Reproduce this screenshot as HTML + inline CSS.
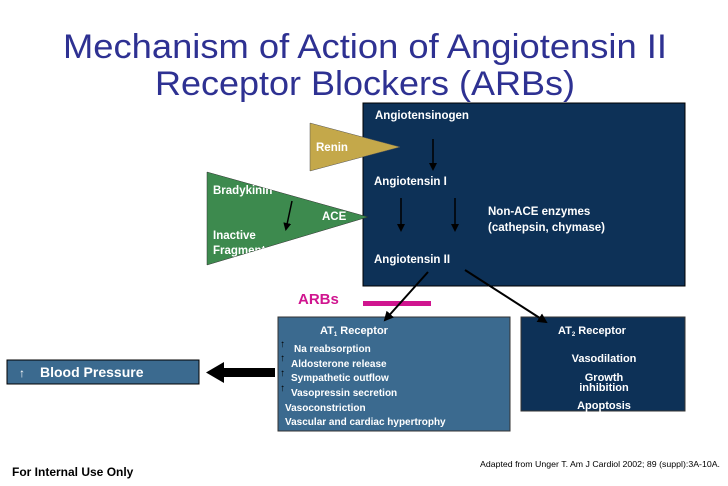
<!DOCTYPE html>
<html><head><style>body{margin:0;background:#fff}svg{display:block}</style></head><body>
<svg width="728" height="486" viewBox="0 0 728 486" xmlns="http://www.w3.org/2000/svg" font-family="Liberation Sans, sans-serif">
<defs>
<marker id="ah" markerWidth="8" markerHeight="8" refX="6" refY="4" orient="auto" markerUnits="userSpaceOnUse"><path d="M0,0 L8,4 L0,8 z" fill="#000"/></marker>
<marker id="ah2" markerWidth="10" markerHeight="10" refX="8" refY="5" orient="auto" markerUnits="userSpaceOnUse"><path d="M0,0 L10,5 L0,10 z" fill="#000"/></marker>
<clipPath id="gc"><polygon points="207,172 207,265 368,217"/></clipPath>
</defs>
<text x="365" y="58" text-anchor="middle" font-size="34" fill="#2e3192" textLength="604" lengthAdjust="spacingAndGlyphs">Mechanism of Action of Angiotensin II</text>
<text x="365" y="95" text-anchor="middle" font-size="34" fill="#2e3192" textLength="420" lengthAdjust="spacingAndGlyphs">Receptor Blockers (ARBs)</text>
<rect x="363" y="103" width="322" height="183" fill="#0d3157" stroke="#000" stroke-width="1"/>
<polygon points="310,123 310,171 400,147" fill="#c4a84a" stroke="#555" stroke-width="0.5"/>
<polygon points="207,172 207,265 368,217" fill="#3d8a4e" stroke="#333" stroke-width="0.5"/>
<g font-weight="bold" font-size="11.5" fill="#fff">
<text x="375" y="119">Angiotensinogen</text>
<text x="316" y="151">Renin</text>
<text x="374" y="185">Angiotensin I</text>
<text x="322" y="220">ACE</text>
<text x="488" y="215">Non-ACE enzymes</text>
<text x="488" y="231">(cathepsin, chymase)</text>
<text x="374" y="263">Angiotensin II</text>
<g clip-path="url(#gc)"><text x="213" y="194">Bradykinin</text><text x="213" y="239">Inactive</text><text x="213" y="254">Fragments</text></g>
</g>
<g stroke="#000" stroke-width="1.5" marker-end="url(#ah)">
<line x1="433" y1="139" x2="433" y2="169"/>
<line x1="401" y1="198" x2="401" y2="230"/>
<line x1="455" y1="198" x2="455" y2="230"/>
<line x1="292" y1="201" x2="286" y2="229"/>
</g>
<text x="298" y="304" font-weight="bold" font-size="15" fill="#d0158f">ARBs</text>
<rect x="363" y="301" width="68" height="5" fill="#d0158f"/>
<rect x="278" y="317" width="232" height="114" fill="#3b6a8f" stroke="#333" stroke-width="1"/>
<rect x="521" y="317" width="164" height="94" fill="#0d3157" stroke="#333" stroke-width="1"/>
<g stroke="#000" stroke-width="2" marker-end="url(#ah2)">
<line x1="428" y1="272" x2="385" y2="320"/>
<line x1="465" y1="270" x2="546" y2="322"/>
</g>
<g font-weight="bold" font-size="10" fill="#fff">
<text x="320" y="334" font-size="11">AT<tspan font-size="6" dy="2">1</tspan><tspan dy="-2"> Receptor</tspan></text>
<text x="294" y="352">Na reabsorption</text>
<text x="291" y="367">Aldosterone release</text>
<text x="291" y="381">Sympathetic outflow</text>
<text x="291" y="396">Vasopressin secretion</text>
<text x="285" y="411">Vasoconstriction</text>
<text x="285" y="425">Vascular and cardiac hypertrophy</text>
<text x="558" y="334" font-size="11">AT<tspan font-size="6" dy="2">2</tspan><tspan dy="-2"> Receptor</tspan></text>
<text x="604" y="362" font-size="11" text-anchor="middle">Vasodilation</text>
<text x="604" y="381" font-size="11" text-anchor="middle">Growth</text>
<text x="604" y="391" font-size="11" text-anchor="middle">inhibition</text>
<text x="604" y="409" font-size="11" text-anchor="middle">Apoptosis</text>
</g>
<g fill="#000" font-size="10" font-weight="bold"><text x="280" y="347">↑</text><text x="280" y="361">↑</text><text x="280" y="376">↑</text><text x="280" y="391">↑</text></g>
<rect x="7" y="360" width="192" height="24" fill="#3b6a8f" stroke="#000" stroke-width="1"/>
<text x="19" y="377" fill="#fff" font-size="12" font-weight="bold">↑</text>
<text x="40" y="377" fill="#fff" font-size="14" font-weight="bold">Blood Pressure</text>
<rect x="222" y="368" width="53" height="9" fill="#000"/>
<polygon points="206,372.5 224,362 224,383" fill="#000"/>
<text x="12" y="476" font-size="12" font-weight="bold" fill="#000">For Internal Use Only</text>
<text x="480" y="467" font-size="8.5" fill="#000" textLength="240" lengthAdjust="spacingAndGlyphs">Adapted from Unger T. Am J Cardiol 2002; 89 (suppl):3A-10A.</text>
</svg>
</body></html>
